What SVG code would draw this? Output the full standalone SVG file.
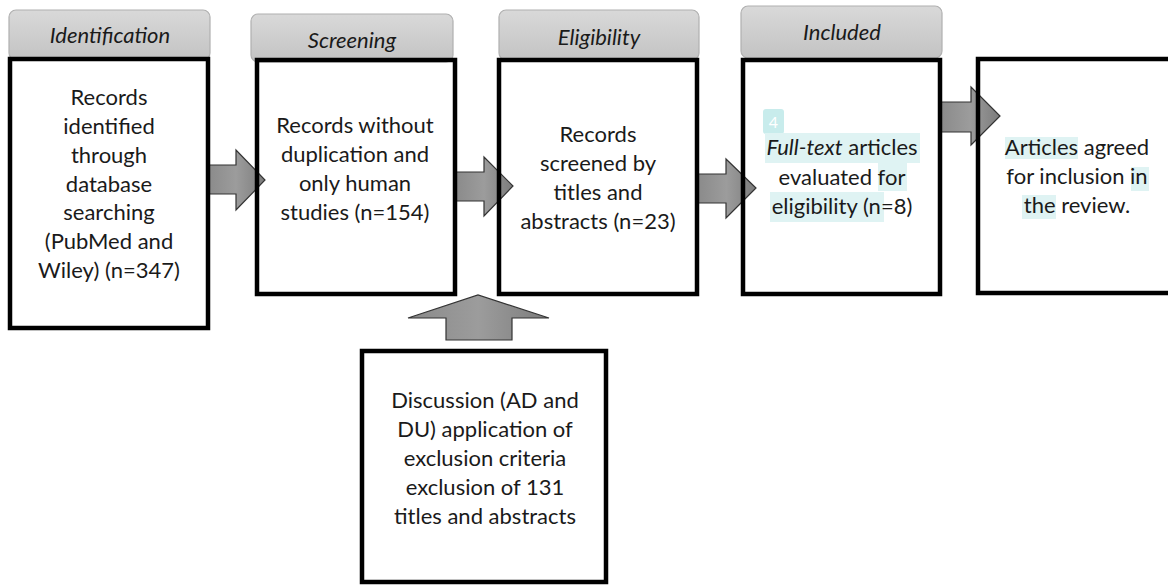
<svg xmlns="http://www.w3.org/2000/svg" width="1168" height="585" viewBox="0 0 1168 585">
<defs>
<linearGradient id="tabg" x1="0" y1="0" x2="0" y2="1">
<stop offset="0" stop-color="#d9d9d9"/>
<stop offset="1" stop-color="#c3c3c3"/>
</linearGradient>
<linearGradient id="arrg" x1="0" y1="0" x2="1" y2="0">
<stop offset="0" stop-color="#8a8a8a"/>
<stop offset="0.5" stop-color="#9c9c9c"/>
<stop offset="1" stop-color="#7c7c7c"/>
</linearGradient>
<style>
.tab{fill:url(#tabg);stroke:#b0b0b0;stroke-width:1.2}
.box{fill:none;stroke:#000;stroke-width:4.5}
.arr{fill:url(#arrg);stroke:#333;stroke-width:1.2;stroke-linejoin:miter}
.t{font-family:Lato,"Liberation Sans",sans-serif;font-size:22px;fill:#1a1a1a;text-anchor:middle}
.h{font-family:Lato,"Liberation Sans",sans-serif;font-size:22px;font-style:italic;fill:#1a1a1a;text-anchor:middle}
.hl{fill:#dff3f3}
</style>
</defs>
<rect width="1168" height="585" fill="#fff"/>
<g id="connectors">
<polygon class="arr" points="207,165 236,165 236,150 265,180 236,210 236,194 207,194"/>
<polygon class="arr" points="455,172 484,172 484,157 513,186 484,216 484,201 455,201"/>
<polygon class="arr" points="697,174 726,174 726,159 756,188 726,218 726,203 697,203"/>
<polygon class="arr" points="940,102 971,102 971,87 1000,116 971,145 971,132 940,132"/>
<polygon class="arr" points="446,340 446,318 408,318 478,295 549,318 512,318 512,340"/>
</g>
<g id="identification">
<rect class="tab" x="9" y="10" width="201" height="50" rx="7"/>
<text class="h" x="110" y="43">Identification</text>
<rect class="box" x="10" y="59" width="198" height="269"/>
<text class="t" x="109" y="105">Records</text>
<text class="t" x="109" y="134">identified</text>
<text class="t" x="109" y="163">through</text>
<text class="t" x="109" y="192">database</text>
<text class="t" x="109" y="220">searching</text>
<text class="t" x="109" y="249">(PubMed and</text>
<text class="t" x="109" y="278">Wiley) (n=347)</text>
</g>
<g id="screening">
<rect class="tab" x="251" y="14" width="202" height="48" rx="7"/>
<text class="h" x="352" y="48">Screening</text>
<rect class="box" x="257" y="60" width="198" height="234"/>
<text class="t" x="355" y="133">Records without</text>
<text class="t" x="355" y="162">duplication and</text>
<text class="t" x="355" y="191">only human</text>
<text class="t" x="355" y="220">studies (n=154)</text>
</g>
<g id="eligibility">
<rect class="tab" x="499" y="10" width="200" height="50" rx="7"/>
<text class="h" x="599" y="45">Eligibility</text>
<rect class="box" x="499" y="60" width="198" height="234"/>
<text class="t" x="598" y="142">Records</text>
<text class="t" x="598" y="171">screened by</text>
<text class="t" x="598" y="200">titles and</text>
<text class="t" x="598" y="229">abstracts (n=23)</text>
</g>
<g id="included">
<rect class="tab" x="741" y="6" width="201" height="52" rx="7"/>
<text class="h" x="842" y="40">Included</text>
<rect class="box" x="743" y="60" width="197" height="234"/>
<rect x="763" y="109" width="21" height="25" rx="3" fill="#c8ecec"/>
<text x="773.5" y="128" font-family="Lato,'Liberation Sans',sans-serif" font-size="16" fill="#ffffff" text-anchor="middle">4</text>
<rect class="hl" x="765" y="133" width="155" height="30"/>
<rect class="hl" x="878" y="163" width="29" height="28"/>
<rect class="hl" x="770" y="192" width="114" height="30"/>
<text class="t" x="842" y="155"><tspan font-style="italic">Full-text</tspan> articles</text>
<text class="t" x="842" y="185">evaluated for</text>
<text class="t" x="842" y="214">eligibility (n=8)</text>
</g>
<g id="agreed">
<rect class="box" x="978" y="59" width="200" height="234"/>
<rect class="hl" x="1005" y="137" width="73" height="22"/>
<rect class="hl" x="1131" y="167" width="18" height="24"/>
<rect class="hl" x="1022" y="195" width="34" height="24"/>
<text class="t" x="1077" y="155">Articles agreed</text>
<text class="t" x="1077" y="184">for inclusion in</text>
<text class="t" x="1077" y="213">the review.</text>
</g>
<g id="discussion">
<rect class="box" x="362" y="351" width="244" height="231"/>
<text class="t" x="485" y="408">Discussion (AD and</text>
<text class="t" x="485" y="437">DU) application of</text>
<text class="t" x="485" y="466">exclusion criteria</text>
<text class="t" x="485" y="495">exclusion of 131</text>
<text class="t" x="485" y="524">titles and abstracts</text>
</g>
</svg>
